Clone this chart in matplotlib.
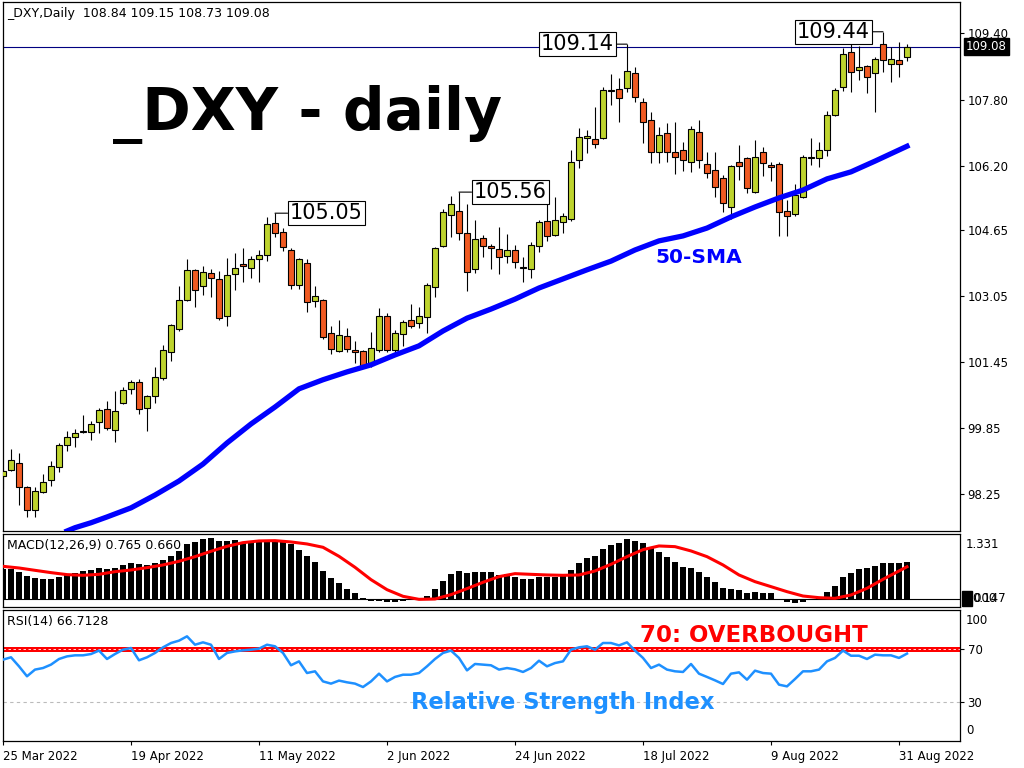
import numpy as np
import matplotlib
matplotlib.use('Agg')
import matplotlib.pyplot as plt
from matplotlib.patches import Rectangle

plt.rcParams['font.family'] = ['DejaVu Sans']

# daily OHLC, one bar per trading day (25 Mar 2022 .. 1 Sep 2022)
opens = [98.69, 98.84, 99.01, 98.43, 97.87, 98.31, 98.60, 98.91, 99.44, 99.64,
         99.76, 99.76, 100.00, 100.31, 99.80, 100.46, 100.80, 100.97, 100.34, 100.63,
         101.06, 101.69, 102.25, 102.95, 103.68, 103.29, 103.60, 103.46, 102.56, 103.58,
         103.82, 103.72, 103.94, 104.04, 104.81, 104.60, 104.16, 103.31, 103.84, 102.93,
         102.95, 102.15, 101.72, 102.08, 101.74, 101.72, 101.38, 101.74, 102.56, 101.74,
         102.13, 102.47, 102.39, 102.54, 103.26, 104.26, 105.00, 105.10, 104.57, 103.70,
         104.45, 104.26, 104.18, 104.01, 104.16, 103.74, 103.70, 104.26, 104.86, 104.52,
         104.84, 104.91, 106.34, 106.87, 106.84, 106.87, 108.03, 108.05, 108.08, 108.44,
         107.74, 107.30, 106.53, 106.99, 106.53, 106.58, 106.29, 107.01, 106.24, 106.09,
         105.90, 105.20, 106.29, 106.38, 105.56, 106.53, 106.21, 106.24, 105.10, 105.03,
         105.44, 106.38, 106.38, 106.58, 107.42, 108.10, 108.95, 108.51, 108.61, 108.44,
         109.14, 108.66, 108.75, 108.84]
highs = [98.84, 99.35, 99.25, 98.45, 98.43, 98.74, 99.06, 99.49, 99.78, 99.83,
         100.17, 100.02, 100.34, 100.51, 100.75, 100.85, 101.01, 101.04, 100.65, 101.33,
         101.86, 102.36, 103.29, 103.94, 103.70, 103.77, 103.70, 103.65, 103.97, 104.09,
         104.21, 104.01, 104.16, 104.96, 105.05, 104.69, 104.21, 103.97, 103.94, 103.29,
         102.97, 102.32, 102.47, 102.27, 101.96, 101.74, 102.18, 102.76, 102.64, 102.22,
         102.47, 102.85, 102.78, 103.36, 104.23, 105.15, 105.46, 105.56, 105.27, 104.88,
         104.52, 104.30, 104.72, 104.55, 104.28, 103.99, 104.35, 104.88, 105.32, 105.44,
         105.05, 106.58, 107.11, 107.06, 107.62, 108.10, 108.42, 108.32, 109.14, 108.59,
         107.84, 107.50, 107.13, 107.23, 107.26, 106.77, 107.16, 107.30, 106.53, 106.53,
         105.97, 106.21, 106.70, 106.41, 106.82, 106.65, 106.29, 106.29, 105.37, 105.76,
         106.46, 106.87, 106.77, 107.52, 108.08, 109.04, 109.24, 109.09, 108.63, 108.83,
         109.44, 109.07, 109.19, 109.15]
lows = [98.38, 98.82, 97.99, 97.70, 97.70, 98.28, 98.45, 98.79, 99.30, 99.40,
        99.73, 99.56, 99.73, 99.80, 99.52, 100.44, 100.68, 100.19, 99.78, 100.46,
        101.01, 101.47, 102.20, 102.93, 102.78, 103.07, 103.02, 102.47, 102.32, 103.19,
        103.38, 103.48, 103.38, 103.89, 104.47, 104.13, 103.22, 103.22, 102.66, 102.78,
        102.01, 101.64, 101.70, 101.70, 101.43, 101.31, 101.33, 101.69, 101.69, 101.67,
        101.84, 102.27, 102.27, 102.15, 103.02, 104.23, 104.47, 104.40, 103.17, 103.60,
        103.99, 103.70, 103.58, 103.84, 103.72, 103.38, 103.48, 104.11, 104.38, 104.50,
        104.57, 104.86, 106.14, 106.50, 106.63, 106.85, 107.67, 107.26, 107.98, 107.74,
        106.75, 106.26, 106.26, 106.29, 105.99, 106.07, 106.05, 106.14, 105.90, 105.44,
        105.08, 104.91, 105.85, 105.54, 105.54, 105.95, 105.83, 104.50, 104.50, 104.98,
        105.42, 106.21, 106.17, 106.43, 107.40, 108.00, 107.98, 108.27, 107.96, 107.50,
        108.46, 108.22, 108.34, 108.73]
closes = [98.81, 99.08, 98.43, 97.87, 98.33, 98.55, 98.94, 99.44, 99.64, 99.73,
          99.78, 99.95, 100.29, 99.85, 100.27, 100.77, 100.97, 100.31, 100.63, 101.09,
          101.74, 102.35, 102.95, 103.68, 103.19, 103.63, 103.48, 102.51, 103.55, 103.72,
          103.77, 103.94, 104.04, 104.79, 104.57, 104.23, 103.31, 103.94, 102.90, 103.05,
          102.06, 101.76, 102.10, 101.76, 101.69, 101.38, 101.79, 102.56, 101.74, 102.15,
          102.42, 102.32, 102.56, 103.31, 104.21, 105.08, 105.27, 104.57, 103.63, 104.42,
          104.26, 104.21, 103.99, 104.16, 103.87, 103.72, 104.28, 104.84, 104.50, 104.88,
          104.98, 106.29, 106.89, 106.92, 106.72, 108.03, 108.00, 107.84, 108.49, 107.86,
          107.26, 106.53, 106.94, 106.53, 106.41, 106.34, 107.09, 106.34, 106.02, 105.68,
          105.30, 106.19, 106.19, 105.66, 106.41, 106.26, 106.17, 105.08, 104.98, 105.49,
          106.41, 106.40, 106.58, 107.42, 108.03, 108.90, 108.46, 108.59, 108.34, 108.78,
          108.75, 108.78, 108.66, 109.08]

# 50-day simple moving average (bar index, value)
sma_idx = [8, 9, 11, 13, 16, 19, 22, 25, 28, 31, 34, 37, 40, 43, 46, 49, 52, 55, 58,
           61, 64, 67, 70, 73, 76, 79, 82, 85, 88, 91, 94, 97, 100, 103, 106, 109, 113]
sma_vals = [97.36, 97.44, 97.56, 97.70, 97.92, 98.23, 98.57, 98.98, 99.49, 99.95,
            100.36, 100.80, 101.02, 101.21, 101.38, 101.62, 101.84, 102.20, 102.51,
            102.73, 102.97, 103.24, 103.46, 103.68, 103.89, 104.16, 104.38, 104.50,
            104.69, 104.96, 105.20, 105.42, 105.61, 105.88, 106.05, 106.31, 106.67]

# MACD(12,26,9) main line (histogram) and signal line
macd = [0.622, 0.622, 0.553, 0.464, 0.430, 0.410, 0.410, 0.451, 0.499, 0.533,
        0.581, 0.594, 0.635, 0.615, 0.635, 0.690, 0.738, 0.717, 0.704, 0.738,
        0.792, 0.874, 0.990, 1.127, 1.161, 1.223, 1.250, 1.182, 1.182, 1.202,
        1.168, 1.195, 1.202, 1.182, 1.182, 1.182, 1.127, 1.011, 0.874, 0.751,
        0.581, 0.430, 0.328, 0.205, 0.123, 0.020, -0.034, -0.034, -0.061, -0.061,
        -0.034, -0.007, 0.003, 0.055, 0.205, 0.362, 0.512, 0.567, 0.533, 0.553,
        0.553, 0.553, 0.499, 0.512, 0.458, 0.410, 0.410, 0.458, 0.458, 0.458,
        0.471, 0.594, 0.731, 0.833, 0.881, 1.018, 1.107, 1.141, 1.223, 1.195,
        1.141, 1.072, 0.956, 0.854, 0.751, 0.649, 0.628, 0.546, 0.444, 0.355,
        0.219, 0.198, 0.178, 0.116, 0.137, 0.116, 0.116, 0.005, -0.055, -0.089,
        -0.055, 0.000, 0.014, 0.137, 0.273, 0.444, 0.526, 0.608, 0.628, 0.683,
        0.731, 0.731, 0.731, 0.765]
sig_idx = list(range(0, 113, 2)) + [113]
sig_vals = [0.669, 0.635, 0.587, 0.540, 0.499, 0.485, 0.505, 0.560, 0.594, 0.642,
            0.697, 0.772, 0.867, 0.977, 1.079, 1.154, 1.189, 1.195, 1.168, 1.127,
            1.059, 0.874, 0.649, 0.396, 0.191, 0.055, -0.007, 0.000, 0.089, 0.212,
            0.342, 0.458, 0.519, 0.505, 0.492, 0.485, 0.492, 0.574, 0.710, 0.867,
            1.011, 1.086, 1.072, 0.984, 0.867, 0.697, 0.492, 0.355, 0.253, 0.150,
            0.061, 0.027, 0.014, 0.082, 0.219, 0.403, 0.574, 0.660]

# RSI(14)
rsi = [62.1, 63.9, 57.0, 49.4, 54.5, 55.7, 58.3, 62.6, 64.6, 65.4,
       65.4, 66.4, 69.0, 62.6, 66.4, 69.7, 71.0, 61.6, 63.9, 67.2,
       71.5, 74.8, 76.6, 79.9, 73.5, 75.3, 73.5, 62.6, 67.2, 68.4,
       69.2, 69.7, 70.5, 73.5, 72.3, 67.2, 57.8, 60.8, 51.9, 53.2,
       45.5, 43.8, 46.1, 44.8, 43.8, 41.2, 45.5, 51.4, 45.5, 48.9,
       50.6, 50.6, 51.9, 57.0, 62.6, 67.2, 69.0, 63.4, 53.9, 58.8,
       58.3, 57.8, 54.5, 55.7, 54.7, 52.7, 55.7, 61.3, 57.0, 59.5,
       60.8, 69.7, 71.5, 72.3, 69.7, 74.8, 74.8, 73.0, 75.3, 69.0,
       63.4, 55.7, 58.3, 54.5, 53.2, 52.7, 58.8, 51.4, 48.9, 46.3,
       43.5, 51.4, 52.4, 46.8, 53.7, 51.9, 51.4, 43.0, 41.7, 47.3,
       53.2, 53.2, 54.5, 60.8, 63.4, 69.0, 65.1, 65.1, 62.6, 65.9,
       65.4, 65.4, 63.4, 66.7128]

price_ticks = [98.25, 99.85, 101.45, 103.05, 104.65, 106.20, 107.80, 109.40]
date_idx = [0, 16, 32, 48, 64, 80, 96, 112]
date_labels = ['25 Mar 2022', '19 Apr 2022', '11 May 2022', '2 Jun 2022',
               '24 Jun 2022', '18 Jul 2022', '9 Aug 2022', '31 Aug 2022']
peaks = [(34, 105.05, 'right'), (57, 105.56, 'right'),
         (78, 109.14, 'left'), (110, 109.44, 'left')]

W, H = 1024, 768
fig = plt.figure(figsize=(W / 100, H / 100), dpi=100)


def rect(l, t, r, b):
    return [l / W, 1 - b / H, (r - l) / W, (b - t) / H]


def ftext(x, y, s, **kw):
    # text placed by pixel position (from top-left)
    return fig.text(x / W, 1 - y / H, s, **kw)


xmax = (960 - 3) / 8
x = np.arange(len(closes))
o, h, l, c = map(np.array, (opens, highs, lows, closes))
bull_col, bear_col = '#bed42e', '#f05a22'

# ---- main price panel
ax = fig.add_axes(rect(3, 2, 960, 531))
ax.axhline(109.08, color='#000080', lw=0.8, zorder=1)
ax.vlines(x, l, h, color='black', lw=0.8, zorder=2)
ax.bar(x, np.abs(c - o), bottom=np.minimum(o, c), width=0.66,
       color=np.where(c >= o, bull_col, bear_col), edgecolor='black',
       linewidth=0.8, zorder=3)
ax.plot(sma_idx, sma_vals, color='#0000ff', lw=3.8, zorder=4)

for k, v, side in peaks:
    right = side == 'right'
    ax.annotate(f'{v:.2f}', xy=(k, v), xytext=(15 if right else -13, 0),
                textcoords='offset pixels', ha='left' if right else 'right',
                va='center', fontsize=15, zorder=6,
                bbox=dict(boxstyle='square,pad=0.1', fc='white', ec='black', lw=0.8),
                arrowprops=dict(arrowstyle='-', color='black', lw=0.8,
                                shrinkA=0, shrinkB=0))

ax.set_xlim(0, xmax)
ax.set_ylim(97.36, 110.16)
ax.set_yticks(price_ticks)
ax.set_yticklabels([f'{t:.2f}' for t in price_ticks])
ax.tick_params(axis='y', left=False, labelleft=False, right=True, labelright=True,
               length=3, width=0.8, pad=2.5, labelsize=8.5)
ax.tick_params(axis='x', bottom=False, labelbottom=False)

ftext(7, 14, '_DXY,Daily  108.84 109.15 108.73 109.08', fontsize=9, va='center')
ftext(113, 130, '_DXY - daily', fontsize=42, fontweight='bold', va='baseline')
ftext(699, 257, '50-SMA', fontsize=14.5, fontweight='bold', color='#0000ff',
      ha='center', va='center')
ftext(966, 46.5, '109.08', fontsize=8.5, color='white', va='center',
      bbox=dict(boxstyle='square,pad=0.2', fc='black', ec='black'))

# ---- MACD panel
ax2 = fig.add_axes(rect(3, 534, 960, 607))
ax2.bar(x, macd, width=0.75, color='black', zorder=2)
ax2.axhline(0, color='black', lw=0.8, zorder=2)
ax2.plot(sig_idx, sig_vals, color='#ff0000', lw=2.2, zorder=3)
ax2.set_xlim(0, xmax)
ax2.set_ylim(-0.164, 1.331)
ax2.set_xticks([])
ax2.set_yticks([])
ftext(7, 546, 'MACD(12,26,9) 0.765 0.660', fontsize=9, va='center')
ftext(966, 545, '1.331', fontsize=8.5, va='center')
fig.add_artist(Rectangle((962 / W, 1 - 606 / H), 10 / W, 15 / H,
                         transform=fig.transFigure, color='black'))
ftext(963, 599, '0.000', fontsize=8.5, va='center')
ftext(972, 599, '0.147', fontsize=8.5, va='center')

# ---- RSI panel
ax3 = fig.add_axes(rect(3, 610, 960, 741))
ax3.axhline(70, color='#ff0000', lw=3.6, zorder=1)
ax3.axhline(70, color='white', lw=0.6, ls=(0, (3, 3)), zorder=2)
ax3.axhline(30, color='#bbbbbb', lw=0.8, ls=(0, (3, 3)), zorder=1)
ax3.plot(x, rsi, color='#1e90ff', lw=1.8, zorder=3)
ax3.set_xlim(0, xmax)
ax3.set_ylim(0, 100)
ax3.set_yticks([30, 70])
ax3.tick_params(axis='y', left=False, labelleft=False, right=True, labelright=True,
                length=3, width=0.8, pad=2.5, labelsize=8.5)
ax3.set_xticks(date_idx)
ax3.set_xticklabels(date_labels, ha='left')
ax3.tick_params(axis='x', length=3, width=0.8, pad=3.5, labelsize=8.5)
ftext(966, 620, '100', fontsize=8.5, va='center')
ftext(966, 731, '0', fontsize=8.5, va='center')
ftext(7, 622, 'RSI(14) 66.7128', fontsize=9, va='center')
ftext(754, 635, '70: OVERBOUGHT', fontsize=16.5, fontweight='bold',
      color='#ff0000', ha='center', va='center')
ftext(563, 702, 'Relative Strength Index', fontsize=16.3, fontweight='bold',
      color='#1e90ff', ha='center', va='center')

for a in (ax, ax2, ax3):
    for s in a.spines.values():
        s.set_linewidth(0.9)

fig.savefig('out.png', dpi=100)
